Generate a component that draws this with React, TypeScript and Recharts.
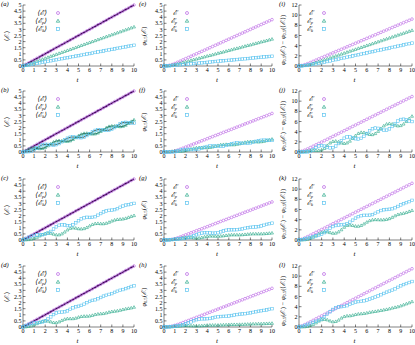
import React from 'react';
import { ComposedChart, Line, XAxis, YAxis } from 'recharts';

// time grid
const tVals = [0, 0.25, 0.5, 0.75, 1, 1.25, 1.5, 1.75, 2, 2.25, 2.5, 2.75, 3, 3.25, 3.5, 3.75, 4, 4.25, 4.5, 4.75, 5, 5.25, 5.5, 5.75, 6, 6.25, 6.5, 6.75, 7, 7.25, 7.5, 7.75, 8, 8.25, 8.5, 8.75, 9, 9.25, 9.5, 9.75, 10];

// column 1 : <E>, <Ep>, <Ek>
const meanE = [0, 0.13, 0.25, 0.38, 0.5, 0.63, 0.75, 0.88, 1, 1.13, 1.25, 1.38, 1.5, 1.63, 1.75, 1.88, 2, 2.13, 2.25, 2.38, 2.5, 2.63, 2.75, 2.88, 3, 3.13, 3.25, 3.38, 3.5, 3.63, 3.75, 3.88, 4, 4.13, 4.25, 4.38, 4.5, 4.63, 4.75, 4.88, 5];
const aEp = [0, 0.05, 0.13, 0.22, 0.3, 0.39, 0.47, 0.55, 0.63, 0.71, 0.79, 0.87, 0.95, 1.03, 1.11, 1.19, 1.27, 1.35, 1.43, 1.51, 1.6, 1.68, 1.76, 1.84, 1.92, 2, 2.08, 2.16, 2.24, 2.32, 2.4, 2.48, 2.56, 2.64, 2.72, 2.8, 2.88, 2.96, 3.04, 3.12, 3.2];
const aEk = [0, 0.05, 0.09, 0.13, 0.17, 0.21, 0.26, 0.3, 0.34, 0.38, 0.43, 0.47, 0.51, 0.55, 0.6, 0.64, 0.68, 0.72, 0.77, 0.81, 0.85, 0.89, 0.94, 0.98, 1.02, 1.06, 1.11, 1.15, 1.19, 1.23, 1.28, 1.32, 1.36, 1.4, 1.45, 1.49, 1.53, 1.57, 1.62, 1.66, 1.7];
const bEp = [0, 0.1, 0.22, 0.31, 0.33, 0.29, 0.27, 0.29, 0.37, 0.5, 0.66, 0.81, 0.9, 0.93, 0.91, 0.88, 0.87, 0.91, 1.02, 1.17, 1.33, 1.45, 1.52, 1.53, 1.5, 1.47, 1.48, 1.55, 1.68, 1.83, 1.98, 2.09, 2.13, 2.12, 2.09, 2.07, 2.1, 2.19, 2.34, 2.5, 2.63];
const bEk = [0, 0.02, 0.03, 0.07, 0.18, 0.33, 0.48, 0.59, 0.63, 0.62, 0.59, 0.57, 0.6, 0.69, 0.84, 1, 1.13, 1.21, 1.23, 1.21, 1.18, 1.17, 1.23, 1.35, 1.5, 1.65, 1.77, 1.83, 1.83, 1.79, 1.77, 1.79, 1.87, 2, 2.16, 2.31, 2.4, 2.43, 2.41, 2.38, 2.37];
const cEp = [0, 0.01, 0.03, 0.07, 0.13, 0.22, 0.33, 0.44, 0.52, 0.56, 0.55, 0.48, 0.42, 0.42, 0.5, 0.65, 0.82, 0.95, 1, 0.97, 0.92, 0.9, 0.93, 1.02, 1.15, 1.27, 1.34, 1.35, 1.33, 1.33, 1.37, 1.45, 1.55, 1.63, 1.68, 1.7, 1.72, 1.77, 1.85, 1.93, 2];
const cEk = [0, 0.12, 0.22, 0.31, 0.37, 0.41, 0.42, 0.44, 0.48, 0.57, 0.7, 0.9, 1.08, 1.21, 1.25, 1.23, 1.18, 1.18, 1.25, 1.41, 1.58, 1.73, 1.82, 1.86, 1.85, 1.86, 1.91, 2.03, 2.17, 2.3, 2.38, 2.43, 2.45, 2.49, 2.57, 2.68, 2.78, 2.86, 2.9, 2.95, 3];
const dEp = [0, 0.01, 0.04, 0.09, 0.17, 0.27, 0.38, 0.46, 0.5, 0.48, 0.42, 0.36, 0.35, 0.42, 0.53, 0.63, 0.68, 0.68, 0.68, 0.72, 0.8, 0.86, 0.88, 0.88, 0.9, 0.95, 1.02, 1.06, 1.08, 1.1, 1.15, 1.21, 1.26, 1.29, 1.32, 1.37, 1.43, 1.48, 1.52, 1.56, 1.62];
const dEk = [0, 0.12, 0.21, 0.29, 0.33, 0.36, 0.37, 0.42, 0.5, 0.65, 0.83, 1.02, 1.15, 1.21, 1.22, 1.25, 1.32, 1.45, 1.57, 1.66, 1.7, 1.77, 1.87, 2, 2.1, 2.18, 2.23, 2.32, 2.42, 2.53, 2.6, 2.67, 2.74, 2.84, 2.93, 3.01, 3.07, 3.15, 3.23, 3.32, 3.38];

// column 2 : phi_0.5
const eE = [0, 0.02, 0.06, 0.12, 0.2, 0.3, 0.4, 0.5, 0.6, 0.7, 0.8, 0.9, 1, 1.1, 1.2, 1.3, 1.4, 1.5, 1.6, 1.7, 1.8, 1.9, 2, 2.1, 2.2, 2.3, 2.4, 2.5, 2.6, 2.7, 2.8, 2.9, 3, 3.1, 3.2, 3.3, 3.4, 3.5, 3.6, 3.7, 3.8];
const eEp = [0, 0.01, 0.03, 0.07, 0.12, 0.17, 0.23, 0.29, 0.34, 0.4, 0.46, 0.52, 0.57, 0.63, 0.69, 0.75, 0.81, 0.86, 0.92, 0.98, 1.04, 1.1, 1.15, 1.21, 1.27, 1.33, 1.39, 1.44, 1.5, 1.56, 1.62, 1.68, 1.73, 1.79, 1.85, 1.91, 1.97, 2.02, 2.08, 2.14, 2.2];
const eEk = [0, 0.01, 0.02, 0.04, 0.06, 0.08, 0.1, 0.12, 0.14, 0.16, 0.18, 0.2, 0.22, 0.24, 0.26, 0.28, 0.3, 0.32, 0.35, 0.37, 0.39, 0.41, 0.43, 0.45, 0.47, 0.49, 0.51, 0.53, 0.55, 0.57, 0.59, 0.61, 0.63, 0.66, 0.68, 0.7, 0.72, 0.74, 0.76, 0.78, 0.8];
const fE = [0, 0, 0.01, 0.03, 0.08, 0.15, 0.23, 0.31, 0.4, 0.49, 0.57, 0.66, 0.74, 0.83, 0.92, 1, 1.09, 1.18, 1.26, 1.35, 1.43, 1.52, 1.61, 1.69, 1.78, 1.86, 1.95, 2.04, 2.12, 2.21, 2.3, 2.38, 2.47, 2.55, 2.64, 2.73, 2.81, 2.9, 2.98, 3.07, 3.16];
const fEp = [0, 0.01, 0.03, 0.05, 0.07, 0.06, 0.06, 0.07, 0.11, 0.17, 0.24, 0.3, 0.34, 0.36, 0.36, 0.35, 0.35, 0.37, 0.41, 0.47, 0.53, 0.59, 0.61, 0.62, 0.6, 0.59, 0.59, 0.63, 0.67, 0.73, 0.79, 0.83, 0.85, 0.84, 0.83, 0.82, 0.84, 0.87, 0.93, 0.99, 1.05];
const fEk = [0, 0, 0, 0.01, 0.02, 0.08, 0.14, 0.19, 0.21, 0.21, 0.2, 0.2, 0.22, 0.26, 0.32, 0.39, 0.45, 0.49, 0.49, 0.49, 0.47, 0.47, 0.49, 0.54, 0.6, 0.67, 0.71, 0.74, 0.73, 0.71, 0.71, 0.71, 0.75, 0.8, 0.87, 0.92, 0.96, 0.97, 0.97, 0.95, 0.95];
const gE = [0, 0.01, 0.02, 0.05, 0.1, 0.17, 0.25, 0.33, 0.42, 0.5, 0.59, 0.67, 0.76, 0.84, 0.92, 1.01, 1.09, 1.18, 1.26, 1.35, 1.43, 1.52, 1.6, 1.68, 1.77, 1.85, 1.94, 2.02, 2.11, 2.19, 2.28, 2.36, 2.44, 2.53, 2.61, 2.7, 2.78, 2.87, 2.95, 3.04, 3.12];
const gEp = [0, 0, 0.01, 0.03, 0.06, 0.1, 0.14, 0.18, 0.21, 0.22, 0.2, 0.17, 0.15, 0.16, 0.2, 0.25, 0.3, 0.32, 0.32, 0.31, 0.31, 0.32, 0.34, 0.37, 0.4, 0.42, 0.42, 0.42, 0.42, 0.43, 0.45, 0.47, 0.49, 0.5, 0.5, 0.5, 0.5, 0.51, 0.53, 0.55, 0.57];
const gEk = [0, 0.01, 0.02, 0.04, 0.06, 0.08, 0.1, 0.12, 0.15, 0.2, 0.26, 0.34, 0.43, 0.51, 0.57, 0.6, 0.6, 0.58, 0.56, 0.57, 0.6, 0.67, 0.74, 0.8, 0.83, 0.84, 0.84, 0.85, 0.87, 0.91, 0.96, 1.01, 1.04, 1.06, 1.07, 1.1, 1.15, 1.21, 1.28, 1.34, 1.38];
const hE = [0, 0.01, 0.03, 0.07, 0.13, 0.2, 0.28, 0.36, 0.45, 0.53, 0.62, 0.7, 0.79, 0.87, 0.96, 1.04, 1.13, 1.21, 1.3, 1.38, 1.47, 1.55, 1.64, 1.72, 1.81, 1.89, 1.98, 2.06, 2.15, 2.23, 2.32, 2.4, 2.49, 2.57, 2.66, 2.74, 2.83, 2.91, 3, 3.08, 3.17];
const hEp = [0, 0, 0.01, 0.02, 0.04, 0.06, 0.08, 0.1, 0.11, 0.11, 0.1, 0.09, 0.08, 0.09, 0.1, 0.12, 0.14, 0.15, 0.15, 0.15, 0.15, 0.16, 0.17, 0.18, 0.19, 0.2, 0.2, 0.2, 0.21, 0.21, 0.22, 0.23, 0.24, 0.25, 0.25, 0.26, 0.26, 0.27, 0.28, 0.29, 0.3];
const hEk = [0, 0.01, 0.02, 0.04, 0.07, 0.1, 0.14, 0.19, 0.25, 0.33, 0.42, 0.52, 0.6, 0.65, 0.67, 0.67, 0.68, 0.7, 0.75, 0.8, 0.84, 0.86, 0.87, 0.88, 0.9, 0.94, 0.98, 1.02, 1.05, 1.07, 1.09, 1.12, 1.16, 1.2, 1.25, 1.29, 1.33, 1.36, 1.4, 1.45, 1.5];

// column 3 : phi_0.5(E) - phi_0.5(<E>)
const iE = [0, 0.1, 0.25, 0.45, 0.68, 0.92, 1.16, 1.4, 1.63, 1.87, 2.11, 2.34, 2.58, 2.82, 3.06, 3.29, 3.53, 3.77, 4.01, 4.24, 4.48, 4.72, 4.96, 5.19, 5.43, 5.67, 5.91, 6.14, 6.38, 6.62, 6.86, 7.09, 7.33, 7.57, 7.81, 8.04, 8.28, 8.52, 8.76, 8.99, 9.23];
const iEp = [0, 0.03, 0.1, 0.2, 0.34, 0.5, 0.67, 0.85, 1.03, 1.22, 1.4, 1.59, 1.78, 1.96, 2.15, 2.34, 2.52, 2.71, 2.9, 3.08, 3.27, 3.46, 3.64, 3.83, 4.02, 4.2, 4.39, 4.58, 4.76, 4.95, 5.14, 5.32, 5.51, 5.7, 5.88, 6.07, 6.26, 6.44, 6.63, 6.82, 7];
const iEk = [0, 0.04, 0.1, 0.17, 0.25, 0.34, 0.44, 0.54, 0.64, 0.76, 0.88, 1, 1.12, 1.25, 1.37, 1.49, 1.61, 1.73, 1.85, 1.97, 2.09, 2.21, 2.33, 2.45, 2.57, 2.7, 2.82, 2.94, 3.06, 3.18, 3.3, 3.42, 3.54, 3.66, 3.78, 3.9, 4.02, 4.15, 4.27, 4.39, 4.51];
const jE = [0, 0.15, 0.35, 0.6, 0.87, 1.14, 1.41, 1.68, 1.95, 2.23, 2.51, 2.79, 3.07, 3.35, 3.63, 3.91, 4.19, 4.47, 4.75, 5.03, 5.31, 5.59, 5.87, 6.15, 6.43, 6.71, 6.99, 7.27, 7.55, 7.83, 8.11, 8.39, 8.67, 8.95, 9.23, 9.51, 9.79, 10.07, 10.35, 10.63, 10.91];
const jEp = [0, 0.04, 0.1, 0.2, 0.3, 0.32, 0.3, 0.3, 0.4, 0.7, 1.27, 1.77, 2.07, 2.13, 1.99, 1.78, 1.67, 1.78, 2.13, 2.65, 3.21, 3.64, 3.85, 3.82, 3.63, 3.44, 3.41, 3.62, 4.05, 4.61, 5.13, 5.48, 5.59, 5.48, 5.27, 5.13, 5.19, 5.49, 5.99, 6.56, 7.03];
const jEk = [0, 0, 0.01, 0.03, 0.1, 0.41, 0.88, 1.19, 1.27, 1.16, 0.95, 0.81, 0.87, 1.17, 1.67, 2.24, 2.71, 2.96, 2.97, 2.81, 2.61, 2.54, 2.69, 3.08, 3.63, 4.18, 4.57, 4.72, 4.65, 4.45, 4.29, 4.3, 4.55, 5.02, 5.59, 6.09, 6.39, 6.45, 6.31, 6.1, 5.99];
const kE = [0, 0.15, 0.38, 0.65, 0.93, 1.21, 1.5, 1.78, 2.06, 2.34, 2.63, 2.91, 3.2, 3.48, 3.76, 4.05, 4.33, 4.62, 4.9, 5.18, 5.47, 5.75, 6.04, 6.32, 6.6, 6.89, 7.17, 7.46, 7.74, 8.02, 8.31, 8.59, 8.88, 9.16, 9.44, 9.73, 10.01, 10.3, 10.58, 10.86, 11.15];
const kEp = [0, 0.01, 0.05, 0.15, 0.32, 0.55, 0.85, 1.2, 1.5, 1.62, 1.6, 1.45, 1.32, 1.35, 1.6, 2, 2.5, 2.85, 2.95, 2.85, 2.72, 2.7, 2.85, 3.15, 3.5, 3.8, 3.95, 4, 3.98, 3.95, 3.97, 4.05, 4.2, 4.45, 4.75, 5, 5.15, 5.25, 5.4, 5.6, 5.8];
const kEk = [0, 0.08, 0.2, 0.35, 0.5, 0.65, 0.8, 0.95, 1.15, 1.45, 1.85, 2.3, 2.65, 2.85, 2.95, 3, 3.05, 3.2, 3.5, 3.9, 4.3, 4.6, 4.78, 4.85, 4.85, 4.88, 5, 5.25, 5.55, 5.8, 5.95, 6, 6.05, 6.15, 6.35, 6.6, 6.9, 7.15, 7.35, 7.55, 7.8];
const lE = [0, 0.2, 0.45, 0.73, 1.02, 1.31, 1.6, 1.89, 2.18, 2.47, 2.76, 3.05, 3.34, 3.63, 3.92, 4.21, 4.5, 4.79, 5.08, 5.37, 5.66, 5.95, 6.24, 6.53, 6.82, 7.11, 7.4, 7.69, 7.98, 8.27, 8.56, 8.85, 9.14, 9.43, 9.72, 10.01, 10.3, 10.59, 10.88, 11.17, 11.46];
const lEp = [0, 0.01, 0.04, 0.12, 0.28, 0.5, 0.8, 1.15, 1.42, 1.5, 1.4, 1.18, 1.02, 1.08, 1.35, 1.75, 2.05, 2.18, 2.2, 2.3, 2.45, 2.55, 2.6, 2.65, 2.75, 2.88, 2.98, 3.05, 3.15, 3.25, 3.35, 3.45, 3.58, 3.72, 3.85, 3.98, 4.15, 4.35, 4.55, 4.75, 4.98];
const lEk = [0, 0.12, 0.3, 0.5, 0.72, 0.92, 1.1, 1.3, 1.6, 2, 2.5, 3, 3.45, 3.78, 3.95, 4, 4.05, 4.2, 4.45, 4.7, 4.9, 5, 5.05, 5.15, 5.3, 5.5, 5.7, 5.9, 6.1, 6.35, 6.6, 6.85, 7.05, 7.25, 7.5, 7.8, 8.1, 8.35, 8.55, 8.75, 8.95];

const xTicks = [0, 1, 2, 3, 4, 5, 6, 7, 8, 9, 10];
const yTicksLow = [0, 0.5, 1, 1.5, 2, 2.5, 3, 3.5, 4, 4.5, 5];
const yTicksHigh = [0, 2, 4, 6, 8, 10, 12];

const PURPLE = '#b862e4';
const GREEN = '#2aa98a';
const BLUE = '#5cc4ef';
const DARK = '#3b0b4e';
const DARKGREEN = '#14413a';
const SERIF = '"Liberation Serif", "DejaVu Serif", serif';

// layout of plot boxes
const COLS = [
  { x: 23, w: 111 },
  { x: 164, w: 108 },
  { x: 299, w: 113 },
];
const ROWS = [5, 91, 179, 266];
const PLOT_H = 61;

type PanelDef = { id: string; col: number; row: number; E: number[]; P: number[]; K: number[]; darkAll?: boolean };

const panels: PanelDef[] = [
  { id: '(a)', col: 0, row: 0, E: meanE, P: aEp, K: aEk },
  { id: '(b)', col: 0, row: 1, E: meanE, P: bEp, K: bEk, darkAll: true },
  { id: '(c)', col: 0, row: 2, E: meanE, P: cEp, K: cEk },
  { id: '(d)', col: 0, row: 3, E: meanE, P: dEp, K: dEk },
  { id: '(e)', col: 1, row: 0, E: eE, P: eEp, K: eEk },
  { id: '(f)', col: 1, row: 1, E: fE, P: fEp, K: fEk },
  { id: '(g)', col: 1, row: 2, E: gE, P: gEp, K: gEk },
  { id: '(h)', col: 1, row: 3, E: hE, P: hEp, K: hEk },
  { id: '(i)', col: 2, row: 0, E: iE, P: iEp, K: iEk },
  { id: '(j)', col: 2, row: 1, E: jE, P: jEp, K: jEk },
  { id: '(k)', col: 2, row: 2, E: kE, P: kEp, K: kEk },
  { id: '(l)', col: 2, row: 3, E: lE, P: lEp, K: lEk },
];

const circleDot = (props: any) => {
  const { cx, cy, index } = props;
  if (cx == null || cy == null) return <g key={`c${index}`} />;
  return <circle key={`c${index}`} cx={cx} cy={cy} r={1.35} fill="none" stroke={PURPLE} strokeWidth={0.6} />;
};
const triDot = (props: any) => {
  const { cx, cy, index } = props;
  if (cx == null || cy == null) return <g key={`t${index}`} />;
  return (
    <path key={`t${index}`} d={`M${cx},${cy - 1.6}L${cx + 1.5},${cy + 1}L${cx - 1.5},${cy + 1}Z`} fill="none" stroke={GREEN} strokeWidth={0.6} />
  );
};
const sqDot = (props: any) => {
  const { cx, cy, index } = props;
  if (cx == null || cy == null) return <g key={`s${index}`} />;
  return <rect key={`s${index}`} x={cx - 1.3} y={cy - 1.3} width={2.6} height={2.6} fill="none" stroke={BLUE} strokeWidth={0.6} />;
};

const axisStyle = { stroke: '#000', strokeWidth: 0.5 };
const tickStyle = { fontSize: 6, fill: '#000', fontFamily: SERIF };

function Panel({ p }: { p: PanelDef }) {
  const g = COLS[p.col];
  const top = ROWS[p.row];
  const yMax = p.col === 2 ? 12 : 5;
  const yTicks = p.col === 2 ? yTicksHigh : yTicksLow;
  const data = tVals.map((t, i) => ({ t, e: p.E[i], p: p.P[i], k: p.K[i] }));
  return (
    <div style={{ position: 'absolute', left: g.x - 30, top: top - 5 }}>
      <ComposedChart width={g.w + 35} height={PLOT_H + 25} data={data} margin={{ top: 5, right: 5, bottom: 0, left: 0 }}>
        <XAxis dataKey="t" type="number" domain={[0, 10]} ticks={xTicks} interval={0} height={20}
          tickSize={-2.5} tickMargin={4} axisLine={axisStyle} tickLine={axisStyle} tick={tickStyle} />
        <XAxis xAxisId="top" orientation="top" dataKey="t" type="number" domain={[0, 10]} ticks={xTicks} interval={0}
          height={0} tickSize={-2.5} axisLine={axisStyle} tickLine={axisStyle} tick={false} />
        <YAxis type="number" domain={[0, yMax]} ticks={yTicks} interval={0} width={30}
          tickSize={-2.5} tickMargin={4} axisLine={axisStyle} tickLine={axisStyle} tick={tickStyle} />
        <YAxis yAxisId="right" orientation="right" type="number" domain={[0, yMax]} ticks={yTicks} interval={0}
          width={0} tickSize={-2.5} axisLine={axisStyle} tickLine={axisStyle} tick={false} />
        <Line dataKey="e" stroke="none" dot={circleDot} activeDot={false} isAnimationActive={false} />
        <Line dataKey="p" stroke="none" dot={triDot} activeDot={false} isAnimationActive={false} />
        <Line dataKey="k" stroke="none" dot={sqDot} activeDot={false} isAnimationActive={false} />
        {p.darkAll && <Line dataKey="p" stroke={DARKGREEN} strokeWidth={0.9} dot={false} activeDot={false} isAnimationActive={false} />}
        {p.darkAll && <Line dataKey="k" stroke={DARKGREEN} strokeWidth={0.9} dot={false} activeDot={false} isAnimationActive={false} />}
        {p.col === 0 && <Line dataKey="e" stroke={DARK} strokeWidth={1.5} dot={false} activeDot={false} isAnimationActive={false} />}
      </ComposedChart>
    </div>
  );
}

const LEGEND_POS = [
  { textRight: 47, marker: 58 },
  { textRight: 177, marker: 187 },
  { textRight: 313, marker: 324 },
];

function Marker({ kind }: { kind: number }) {
  return (
    <svg width={6} height={6} style={{ display: 'block' }}>
      {kind === 0 && <circle cx={3} cy={3} r={1.5} fill="none" stroke={PURPLE} strokeWidth={0.7} />}
      {kind === 1 && <path d="M3,1.2L4.7,4.2L1.3,4.2Z" fill="none" stroke={GREEN} strokeWidth={0.7} />}
      {kind === 2 && <rect x={1.5} y={1.5} width={3} height={3} fill="none" stroke={BLUE} strokeWidth={0.7} />}
    </svg>
  );
}

function Legend({ col, row }: { col: number; row: number }) {
  const pos = LEGEND_POS[col];
  const top = ROWS[row];
  const subs = ['', 'p', 'k'];
  return (
    <>
      {subs.map((s, i) => (
        <React.Fragment key={i}>
          <div style={{ position: 'absolute', right: 415 - pos.textRight, top: top + 4 + i * 8, fontSize: 7, lineHeight: '8px', fontStyle: 'italic', whiteSpace: 'nowrap' }}>
            {col === 0 ? '⟨' : ''}ℰ{s && <sub style={{ fontSize: 4.5, verticalAlign: '-1px' }}>{s}</sub>}{col === 0 ? '⟩' : ''}
          </div>
          <div style={{ position: 'absolute', left: pos.marker - 3, top: top + 5 + i * 8 }}>
            <Marker kind={i} />
          </div>
        </React.Fragment>
      ))}
    </>
  );
}

function YLabel({ col, row }: { col: number; row: number }) {
  const xs = [7, 144, 283];
  const cy = ROWS[row] + PLOT_H / 2 + (col === 2 ? 4 : 0);
  const sub = { fontSize: 4.5, verticalAlign: '-1px' };
  let content: React.ReactNode;
  if (col === 0) content = <span>⟨<i>ℰ</i><sub style={sub}>·</sub>⟩</span>;
  else if (col === 1) content = <span><i>φ</i><sub style={sub}>0.5</sub>(<i>ℰ</i><sub style={sub}>·</sub>)</span>;
  else content = <span><i>φ</i><sub style={sub}>0.5</sub>(<i>ℰ</i><sub style={sub}>·</sub>) − <i>φ</i><sub style={sub}>0.5</sub>(⟨<i>ℰ</i><sub style={sub}>·</sub>⟩)</span>;
  return (
    <div style={{ position: 'absolute', left: xs[col], top: cy, transform: 'translate(-50%, -50%) rotate(-90deg)', fontSize: 6.5, whiteSpace: 'nowrap', lineHeight: '7px' }}>
      {content}
    </div>
  );
}

export default function App() {
  const labelX = [1, 139, 279];
  return (
    <div style={{ position: 'absolute', left: 0, top: 0, width: 415, height: 345, background: '#fff', fontFamily: SERIF, color: '#000', overflow: 'hidden' }}>
      {panels.map((p) => (
        <React.Fragment key={p.id}>
          <Panel p={p} />
          <Legend col={p.col} row={p.row} />
          <YLabel col={p.col} row={p.row} />
          <div style={{ position: 'absolute', left: labelX[p.col], top: ROWS[p.row] - 5, fontSize: 6.5, lineHeight: '7px' }}>
            <i>{p.id}</i>
          </div>
          <div style={{ position: 'absolute', left: COLS[p.col].x + COLS[p.col].w / 2 - 2, top: ROWS[p.row] + PLOT_H + 10, fontSize: 7, lineHeight: '8px', fontStyle: 'italic' }}>
            t
          </div>
        </React.Fragment>
      ))}
    </div>
  );
}
